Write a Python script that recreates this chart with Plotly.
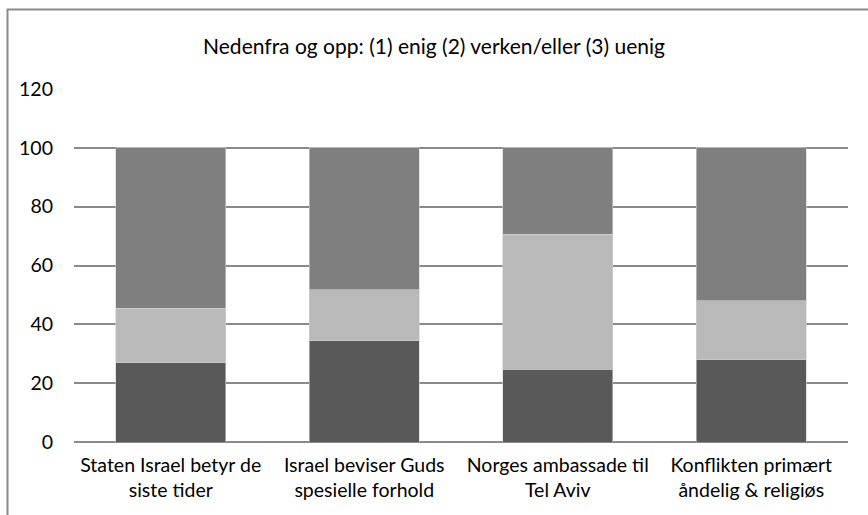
import plotly.graph_objects as go

categories = ["Staten Israel betyr de<br>siste tider",
              "Israel beviser Guds<br>spesielle forhold",
              "Norges ambassade til<br>Tel Aviv",
              "Konflikten primært<br>åndelig & religiøs"]
enig = [27.0, 34.5, 24.8, 27.9]
verken = [18.5, 17.2, 45.8, 20.1]
uenig = [54.5, 48.3, 29.4, 52.0]
y_ticks = [0, 20, 40, 60, 80, 100, 120]
title_text = "Nedenfra og opp: (1) enig (2) verken/eller (3) uenig"

FONT = "Lato"
fig = go.Figure()
for name, vals, col in [("enig", enig, "#595959"),
                        ("verken/eller", verken, "#b9b9b9"),
                        ("uenig", uenig, "#7f7f7f")]:
    fig.add_trace(go.Bar(x=categories, y=vals, name=name,
                         marker=dict(color=col, line=dict(color="#d0d0d0", width=0.6))))

fig.update_layout(
    barmode="stack",
    bargap=0.43,
    width=868, height=515,
    margin=dict(l=74, r=20, t=89, b=73),
    paper_bgcolor="white", plot_bgcolor="white",
    showlegend=False,
    font=dict(family=FONT, size=19.5, color="#000000"),
    title=dict(text=title_text, x=0.5, xref="container", xanchor="center",
               y=1 - 47/515, yref="container", yanchor="middle",
               font=dict(family=FONT, size=21, color="#000000")),
)
fig.update_yaxes(range=[0, 120], tickvals=y_ticks, showgrid=True,
                 gridcolor="#8a8a8a", gridwidth=1.5, zeroline=True,
                 zerolinecolor="#8a8a8a", zerolinewidth=1.5,
                 showline=False, ticklabelstandoff=20,
                 tickfont=dict(family=FONT, size=19.5))
fig.update_xaxes(showline=False, showgrid=False, ticklabelstandoff=9,
                 tickfont=dict(family=FONT, size=19.5))

# outer frame
fig.add_shape(type="rect", xref="paper", yref="paper",
              x0=(7.5-74)/774, x1=(880-74)/774, y0=-0.25, y1=(442-9.5)/353,
              line=dict(color="#8a8a8a", width=2), fillcolor="rgba(0,0,0,0)",
              layer="below")

fig.write_html("out.html", config={"displayModeBar": False},
               post_script="document.body.style.margin='0';document.body.style.padding='0';")
